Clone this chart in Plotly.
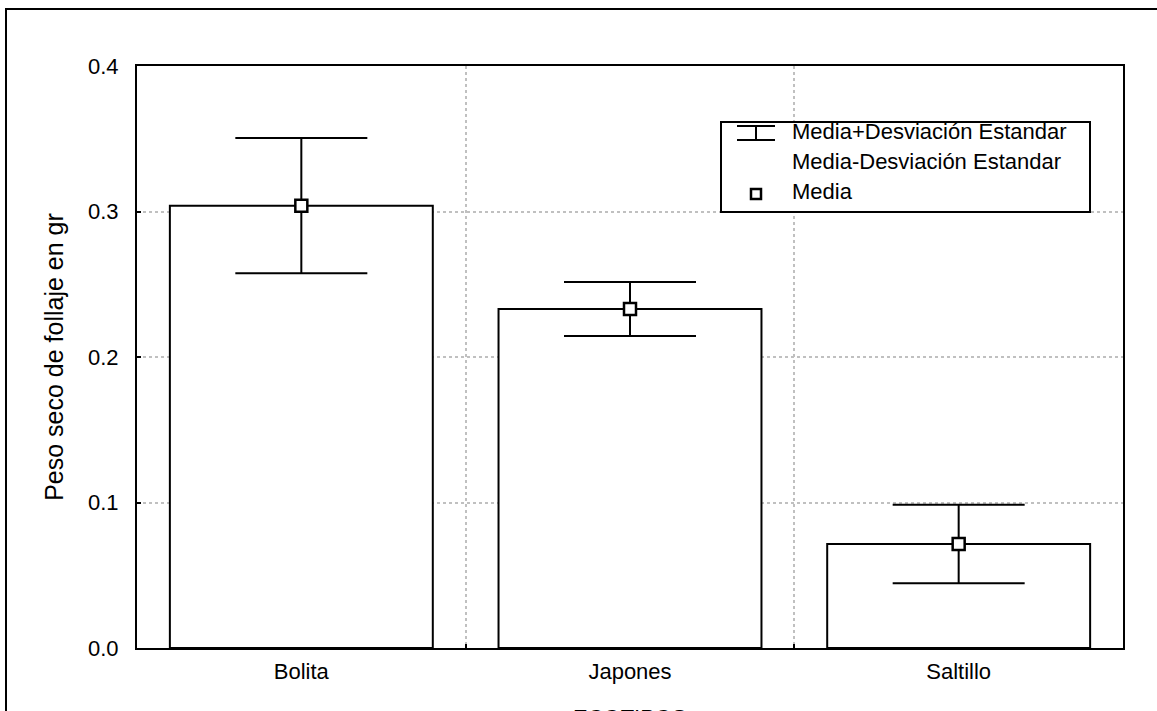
import plotly.graph_objects as go

categorias = ["Bolita", "Japones", "Saltillo"]
media = [0.304, 0.233, 0.0715]
desviacion = [0.0465, 0.0185, 0.027]
y_ticks = [0.0, 0.1, 0.2, 0.3, 0.4]
y_tick_text = ["0.0", "0.1", "0.2", "0.3", "0.4"]

FONT = "Liberation Sans, Arial, sans-serif"
L, R, T, B = 137, 34, 66, 63
W, H = 1157, 711
PW, PH = W - L - R, H - T - B


def px(x):
    return (x - L) / PW


def py(y):
    return (H - B - y) / PH


fig = go.Figure()
fig.add_trace(go.Bar(
    x=categorias, y=media, width=0.8,
    marker=dict(color="white", line=dict(color="black", width=2)),
    error_y=dict(type="data", array=desviacion, visible=True,
                 color="black", thickness=2, width=66),
    showlegend=False, hoverinfo="skip",
))
fig.add_trace(go.Scatter(
    x=categorias, y=media, mode="markers",
    marker=dict(symbol="square", size=12, color="white",
                line=dict(color="black", width=2.5)),
    showlegend=False,
))

shapes = []
# outer figure frame
shapes.append(dict(type="rect", xref="paper", yref="paper",
                   x0=px(6), x1=px(1170), y0=py(9), y1=py(730),
                   line=dict(color="black", width=2), layer="below"))
# legend box
shapes.append(dict(type="rect", xref="paper", yref="paper",
                   x0=px(721), x1=px(1090), y0=py(122), y1=py(212),
                   line=dict(color="black", width=2), fillcolor="white", layer="above"))
# whisker icon
for (x0, y0, x1, y1) in [(737, 126, 775, 126), (737, 140, 775, 140), (756, 126, 756, 140)]:
    shapes.append(dict(type="line", xref="paper", yref="paper",
                       x0=px(x0), x1=px(x1), y0=py(y0), y1=py(y1),
                       line=dict(color="black", width=2), layer="above"))
# square icon
shapes.append(dict(type="rect", xref="paper", yref="paper",
                   x0=px(751), x1=px(761), y0=py(189), y1=py(199),
                   line=dict(color="black", width=2.5), fillcolor="white", layer="above"))

annotations = []
for txt, yy in [("Media+Desviación Estandar", 131), ("Media-Desviación Estandar", 161), ("Media", 191)]:
    annotations.append(dict(text=txt, xref="paper", yref="paper", x=px(790), y=py(yy),
                            xanchor="left", yanchor="middle", showarrow=False,
                            font=dict(family=FONT, size=22, color="black")))
# x axis title (partly below the visible page, as in the reference)
annotations.append(dict(text="ECOTIPOS", xref="paper", yref="paper", x=0.5, y=py(703),
                        xanchor="center", yanchor="top", showarrow=False,
                        font=dict(family=FONT, size=22, color="black")))

fig.update_layout(
    width=W, height=H,
    margin=dict(l=L, r=R, t=T, b=B, autoexpand=False),
    paper_bgcolor="white", plot_bgcolor="white",
    font=dict(family=FONT, size=22, color="black"),
    shapes=shapes, annotations=annotations,
    showlegend=False, bargap=0.2,
)
fig.update_xaxes(
    type="category", range=[-0.5, 2.5], tickson="boundaries",
    showline=True, linecolor="black", linewidth=2, mirror=True,
    ticks="inside", ticklen=4, tickcolor="black", tickwidth=2,
    showgrid=True, gridcolor="#c0c0c0", gridwidth=1.5, griddash="3px,3px",
    tickfont=dict(size=22), ticklabelstandoff=3,
    automargin=False, zeroline=False,
)
fig.update_yaxes(
    range=[0, 0.4], tickvals=y_ticks, ticktext=y_tick_text,
    showline=True, linecolor="black", linewidth=2, mirror=True,
    ticks="inside", ticklen=4, tickcolor="black", tickwidth=2,
    showgrid=True, gridcolor="#c0c0c0", gridwidth=1.5, griddash="3px,3px",
    tickfont=dict(size=22), ticklabelstandoff=12,
    title=dict(text="Peso seco de follaje en gr", standoff=17, font=dict(size=25)),
    automargin=False, zeroline=False,
)

fig.write_html("out.html", config={"displayModeBar": False},
               post_script="document.body.style.margin='0';document.body.style.overflow='hidden';")
